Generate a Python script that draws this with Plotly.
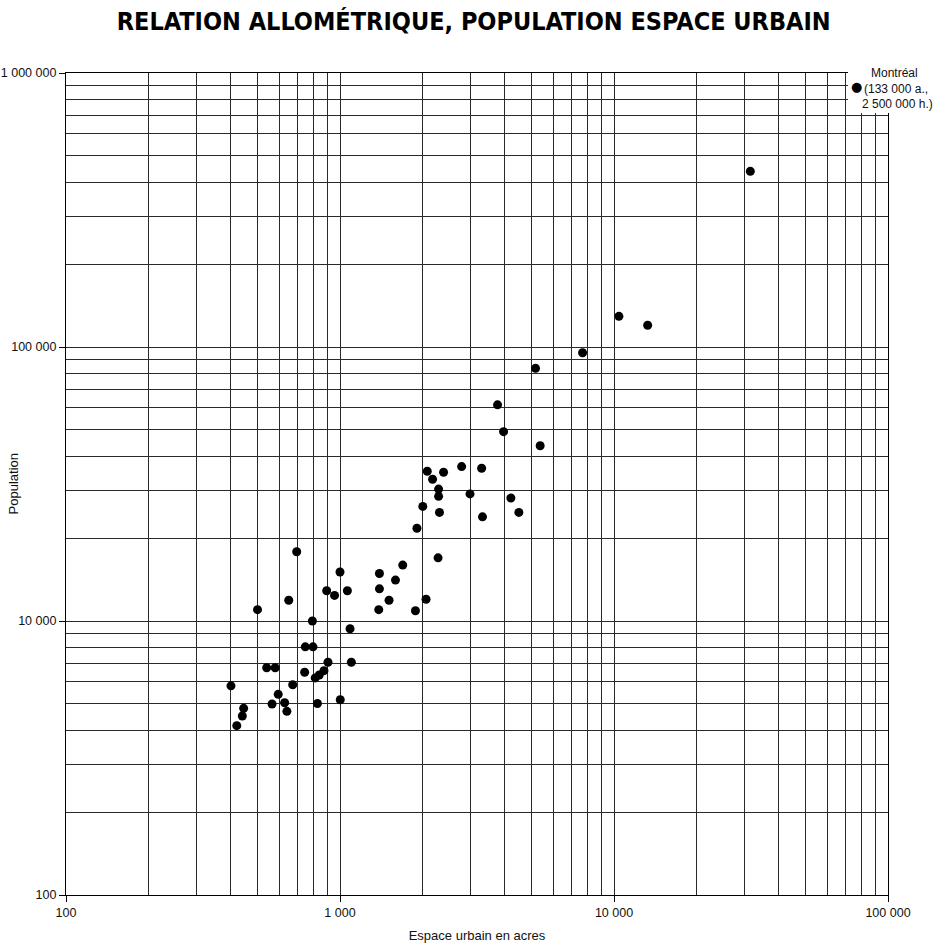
import numpy as np
import plotly.graph_objects as go

# ---- data ----
espace_acres = [400, 420, 440, 445, 500, 540, 580, 595, 565, 628,
                640, 672, 650, 695, 747, 797, 793, 743, 812, 840,
                874, 904, 827, 1000, 894, 955, 1064, 1088, 1100, 1002,
                1393, 1393, 1385, 1510, 1594, 1694, 1885, 2061, 1909, 2005,
                2082, 2177, 2290, 2290, 2307, 2280, 2388, 2779, 2982, 3288,
                3312, 3758, 3953, 4203, 4496, 5172, 5377, 7679, 10420, 13270,
                31440]
population = [5800, 4150, 4500, 4800, 11000, 6750, 6750, 5400, 4980, 5030,
              4680, 5850, 11900, 17900, 8050, 8050, 10000, 6500, 6200, 6350,
              6590, 7070, 5000, 15100, 12900, 12400, 12900, 9370, 7070, 5160,
              14900, 13100, 11000, 11900, 14100, 16000, 10900, 12000, 21800, 26200,
              35200, 32900, 30300, 28500, 24900, 17000, 34900, 36600, 29100, 36100,
              24000, 61500, 49100, 28100, 24900, 83600, 43600, 95300, 129400, 120000,
              437700]

x_tickvals = [100, 1000, 10000, 100000]
x_ticktext = ["100", "1 000", "10 000", "100 000"]
y_tickvals = [1000, 10000, 100000, 1000000]
y_ticktext = ["100", "10 000", "100 000", "1 000 000"]

title_text = "RELATION ALLOMÉTRIQUE, POPULATION ESPACE URBAIN"
x_title = "Espace urbain en acres"
y_title = "Population"
montreal_name = "Montréal"
montreal_area = "(133 000 a.,"
montreal_pop = "2 500 000 h.)"

x_minor = [m * 10 ** e for e in range(2, 5) for m in range(2, 10)]
y_minor = [m * 10 ** e for e in range(3, 6) for m in range(2, 10)]

FONT = "Liberation Sans, Arial, sans-serif"
tick_font = dict(family=FONT, size=12.5, color="#111")
grid_col = "#2a2a2a"

fig = go.Figure()
fig.add_trace(go.Scatter(
    x=espace_acres, y=population, mode="markers",
    marker=dict(size=9, color="#000", line=dict(width=0)),
    hoverinfo="x+y", showlegend=False,
))

axis_common = dict(
    type="log", showline=True, linecolor="#000", linewidth=1.2, mirror=True,
    showgrid=True, gridcolor=grid_col, gridwidth=1,
    ticks="outside", ticklen=6, tickwidth=1, tickcolor="#000",
    tickfont=tick_font, zeroline=False,
)

fig.update_xaxes(
    **axis_common, range=[2, 5], tickmode="array",
    tickvals=x_tickvals, ticktext=x_ticktext,
    minor=dict(tickmode="array", tickvals=x_minor, showgrid=True,
               gridcolor=grid_col, gridwidth=1, ticks=""),
    title=dict(text=x_title, font=dict(family=FONT, size=13, color="#111"), standoff=12),
)
fig.update_yaxes(
    **axis_common, range=[3, 6], tickmode="array",
    tickvals=y_tickvals, ticktext=y_ticktext,
    minor=dict(tickmode="array", tickvals=y_minor, showgrid=True,
               gridcolor=grid_col, gridwidth=1, ticks=""),
)

# y-axis title placed as a rotated note so it sits where the reference has it
fig.add_annotation(text=y_title, xref="paper", yref="paper",
                   x=-0.064, y=0.5, xanchor="center", yanchor="middle",
                   textangle=-90, showarrow=False,
                   font=dict(family=FONT, size=13, color="#111"))

# blank corner behind the Montréal note (grid interrupted there)
cx0 = (np.log10(70000) - 2) / 3 + 0.003
cy0 = (np.log10(700000) - 3) / 3 + 0.003
fig.add_shape(type="rect", xref="paper", yref="paper", x0=cx0, x1=1.03, y0=cy0, y1=1.03,
              fillcolor="#ffffff", opacity=1, line=dict(width=0, color="#ffffff"),
              layer="above")

note_font = dict(family=FONT, size=12, color="#111")
fig.add_annotation(text=montreal_name, xref="paper", yref="paper",
                   x=1.0075, y=1.0, xanchor="center", yanchor="middle",
                   showarrow=False, font=note_font)
fig.add_annotation(text="●", xref="paper", yref="paper",
                   x=0.9615, y=0.983, xanchor="center", yanchor="middle",
                   showarrow=False, font=dict(family="DejaVu Sans, sans-serif", size=13, color="#000"))
fig.add_annotation(text=montreal_area, xref="paper", yref="paper",
                   x=0.968, y=0.9805, xanchor="left", yanchor="middle",
                   showarrow=False, font=note_font)
fig.add_annotation(text=montreal_pop, xref="paper", yref="paper",
                   x=1.057, y=0.962, xanchor="right", yanchor="middle",
                   showarrow=False, font=note_font)

fig.update_layout(
    width=939, height=943,
    margin=dict(l=66, r=51, t=73, b=48, autoexpand=False),
    paper_bgcolor="white", plot_bgcolor="white",
    title=dict(text=title_text, x=0.496, xref="paper", xanchor="center",
               y=1 - 21 / 943, yref="container", yanchor="middle",
               font=dict(family="DejaVu Sans Condensed, DejaVu Sans, sans-serif",
                         size=25, weight="bold", color="#000")),
    showlegend=False,
)

fig.write_html("out.html", config={"displayModeBar": False},
               post_script="document.body.style.margin='0px';")
